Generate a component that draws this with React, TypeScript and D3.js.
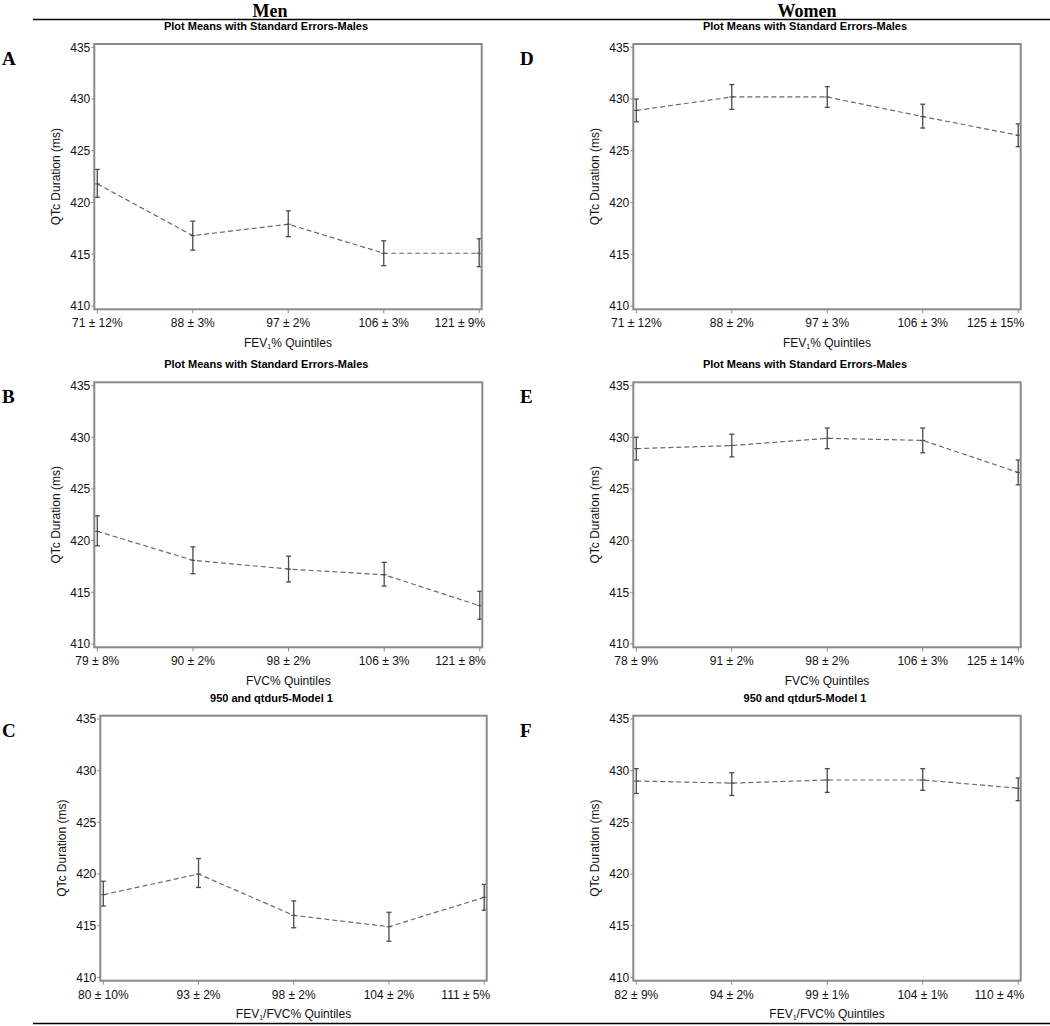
import React from "react";
import * as d3 from "d3";

const yTicks = [410, 415, 420, 425, 430, 435];

const titleMeans = "Plot Means with Standard Errors-Males";
const titleModel = "950 and qtdur5-Model 1";

const labelsA = ["71 ± 12%", "88 ± 3%", "97 ± 2%", "106 ± 3%", "121 ± 9%"];
const meansA = [421.8, 416.8, 417.9, 415.1, 415.1];
const lowA = [420.5, 415.4, 416.7, 413.9, 413.8];
const highA = [423.2, 418.2, 419.2, 416.3, 416.5];

const labelsB = ["79 ± 8%", "90 ± 2%", "98 ± 2%", "106 ± 3%", "121 ± 8%"];
const meansB = [420.9, 418.1, 417.25, 416.7, 413.7];
const lowB = [419.5, 416.8, 416.0, 415.6, 412.4];
const highB = [422.4, 419.4, 418.5, 417.9, 415.1];

const labelsC = ["80 ± 10%", "93 ± 2%", "98 ± 2%", "104 ± 2%", "111 ± 5%"];
const meansC = [418.0, 420.0, 416.0, 414.9, 417.75];
const lowC = [416.9, 418.7, 414.8, 413.5, 416.5];
const highC = [419.3, 421.5, 417.4, 416.3, 419.0];

const labelsD = ["71 ± 12%", "88 ± 2%", "97 ± 3%", "106 ± 3%", "125 ± 15%"];
const meansD = [428.9, 430.2, 430.2, 428.3, 426.5];
const lowD = [427.8, 429.0, 429.2, 427.2, 425.4];
const highD = [430.0, 431.4, 431.2, 429.5, 427.6];

const labelsE = ["78 ± 9%", "91 ± 2%", "98 ± 2%", "106 ± 3%", "125 ± 14%"];
const meansE = [428.9, 429.2, 429.9, 429.7, 426.6];
const lowE = [427.8, 428.1, 428.9, 428.5, 425.4];
const highE = [430.0, 430.3, 430.9, 430.9, 427.8];

const labelsF = ["82 ± 9%", "94 ± 2%", "99 ± 1%", "104 ± 1%", "110 ± 4%"];
const meansF = [429.0, 428.8, 429.1, 429.1, 428.3];
const lowF = [427.8, 427.6, 427.9, 428.1, 427.1];
const highF = [430.2, 429.8, 430.2, 430.2, 429.3];

type XTitle = "fev" | "fvc" | "ratio";

interface PanelSpec {
  letter: string;
  title: string;
  xTitle: XTitle;
  labels: string[];
  means: number[];
  low: number[];
  high: number[];
  left: number;
  right: number;
  top: number;
  bottom: number;
  letterX: number;
}

const SANS = "'Liberation Sans', Arial, Helvetica, sans-serif";
const SERIF = "'Liberation Serif', 'Times New Roman', serif";

const panels: PanelSpec[] = [
  { letter: "A", title: titleMeans, xTitle: "fev", labels: labelsA, means: meansA, low: lowA, high: highA, left: 94.3, right: 481.7, top: 44, bottom: 309.3, letterX: 2 },
  { letter: "B", title: titleMeans, xTitle: "fvc", labels: labelsB, means: meansB, low: lowB, high: highB, left: 94.3, right: 482.3, top: 382.3, bottom: 647.3, letterX: 2 },
  { letter: "C", title: titleModel, xTitle: "ratio", labels: labelsC, means: meansC, low: lowC, high: highC, left: 100.3, right: 486.7, top: 715.7, bottom: 980.7, letterX: 2 },
  { letter: "D", title: titleMeans, xTitle: "fev", labels: labelsD, means: meansD, low: lowD, high: highD, left: 633.3, right: 1020.7, top: 44, bottom: 309.3, letterX: 520 },
  { letter: "E", title: titleMeans, xTitle: "fvc", labels: labelsE, means: meansE, low: lowE, high: highE, left: 633.3, right: 1020.7, top: 382.3, bottom: 647.3, letterX: 520 },
  { letter: "F", title: titleModel, xTitle: "ratio", labels: labelsF, means: meansF, low: lowF, high: highF, left: 633.3, right: 1020.7, top: 715.7, bottom: 980.7, letterX: 520 },
];

function XTitleText({ kind, x, y }: { kind: XTitle; x: number; y: number }) {
  const common = { x, y, textAnchor: "middle" as const, fontFamily: SANS, fontSize: 12, fill: "#111" };
  if (kind === "fvc") return <text {...common}>FVC% Quintiles</text>;
  if (kind === "fev")
    return (
      <text {...common}>
        FEV<tspan fontSize={7} dy={2}>1</tspan>
        <tspan dy={-2}>% Quintiles</tspan>
      </text>
    );
  return (
    <text {...common}>
      FEV<tspan fontSize={7} dy={2}>1</tspan>
      <tspan dy={-2}>/FVC% Quintiles</tspan>
    </text>
  );
}

function Panel({ p }: { p: PanelSpec }) {
  const idx = p.labels.map((_, i) => i);
  const x = d3.scalePoint<number>().domain(idx).range([p.left + 3, p.right - 2.5]);
  const y = d3.scaleLinear().domain([410, 435]).range([p.bottom - 3.3, p.top + 3.3]);
  const line = d3
    .line<number>()
    .x((i) => x(i) as number)
    .y((i) => y(p.means[i]));
  const cx = (p.left + p.right) / 2;
  const cy = (p.top + p.bottom) / 2;
  const grey = "#8a8a8a";
  return (
    <g>
      <text x={p.letterX} y={p.top + 21} fontFamily={SERIF} fontWeight="bold" fontSize={19} fill="#000">
        {p.letter}
      </text>
      <text x={cx - 22} y={p.top - 14} textAnchor="middle" fontFamily={SANS} fontWeight="bold" fontSize={11} fill="#000">
        {p.title}
      </text>
      {yTicks.map((t) => (
        <g key={t}>
          <line x1={p.left - 3} x2={p.left} y1={y(t)} y2={y(t)} stroke={grey} strokeWidth={1} />
          <text x={p.left - 4} y={y(t) + 4.3} textAnchor="end" fontFamily={SANS} fontSize={12} fill="#111">
            {t}
          </text>
        </g>
      ))}
      {idx.map((i) => (
        <g key={i}>
          <line x1={x(i)} x2={x(i)} y1={p.bottom} y2={p.bottom + 4} stroke={grey} strokeWidth={1} />
          <text
            x={i === idx.length - 1 ? p.right + 3.5 : (x(i) as number)}
            y={p.bottom + 18}
            textAnchor={i === idx.length - 1 ? "end" : "middle"}
            fontFamily={SANS}
            fontSize={12}
            fill="#111"
          >
            {p.labels[i]}
          </text>
        </g>
      ))}
      <text
        transform={`translate(${p.left - 38.6},${cy}) rotate(-90)`}
        textAnchor="middle"
        dy={4}
        fontFamily={SANS}
        fontSize={12}
        fill="#111"
      >
        QTc Duration (ms)
      </text>
      <XTitleText kind={p.xTitle} x={cx} y={p.bottom + 37.5} />
      <path d={line(idx) || ""} fill="none" stroke="#6a6a6a" strokeWidth={1.2} strokeDasharray="5,3" />
      {idx.map((i) => {
        const xi = x(i) as number;
        return (
          <g key={"e" + i} stroke="#4a4a4a" strokeWidth={1.3}>
            <line x1={xi} x2={xi} y1={y(p.low[i])} y2={y(p.high[i])} />
            <line x1={xi - 2.5} x2={xi + 2.5} y1={y(p.low[i])} y2={y(p.low[i])} />
            <line x1={xi - 2.5} x2={xi + 2.5} y1={y(p.high[i])} y2={y(p.high[i])} />
            <line x1={xi - 2.5} x2={xi + 2.5} y1={y(p.means[i])} y2={y(p.means[i])} strokeWidth={1} />
          </g>
        );
      })}
      <rect x={p.left} y={p.top} width={p.right - p.left} height={p.bottom - p.top} fill="none" stroke={grey} strokeWidth={2} />
    </g>
  );
}

export default function App() {
  return (
    <div style={{ position: "absolute", left: 0, top: 0, background: "#fff" }}>
      <svg width={1050} height={1026} viewBox="0 0 1050 1026" style={{ display: "block" }}>
        <rect width={1050} height={1026} fill="#fff" />
        <text x={270} y={17} textAnchor="middle" fontFamily={SERIF} fontWeight="bold" fontSize={18} fill="#000">
          Men
        </text>
        <text x={807} y={17} textAnchor="middle" fontFamily={SERIF} fontWeight="bold" fontSize={18} fill="#000">
          Women
        </text>
        <line x1={33} x2={1050} y1={19.5} y2={19.5} stroke="#000" strokeWidth={1.5} />
        <line x1={33} x2={1050} y1={1023.5} y2={1023.5} stroke="#000" strokeWidth={1.5} />
        {panels.map((p) => (
          <Panel key={p.letter} p={p} />
        ))}
      </svg>
    </div>
  );
}
